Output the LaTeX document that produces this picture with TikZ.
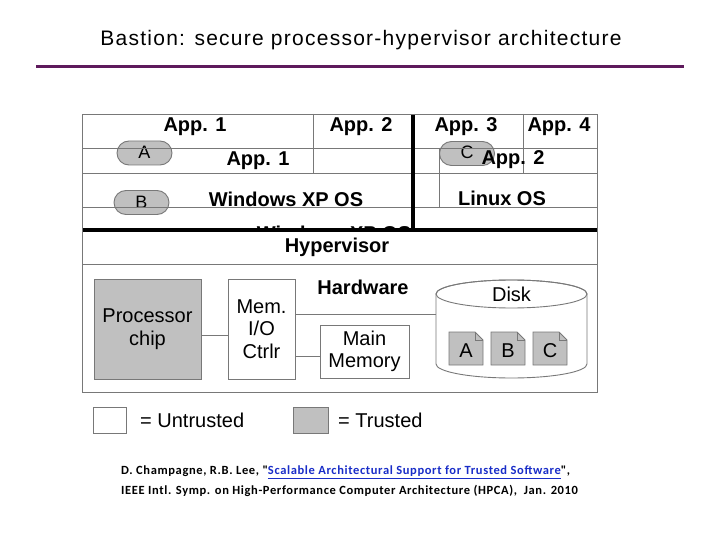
\documentclass[tikz,border=0pt]{standalone}
\usepackage{fontspec}
\setmainfont{Liberation Sans}
\newfontfamily\titlefont[LetterSpace=6]{Liberation Sans}
\newfontfamily\calib[LetterSpace=5]{Carlito}
\definecolor{gline}{RGB}{120,120,120}
\definecolor{gfill}{RGB}{192,192,192}
\definecolor{purp}{RGB}{94,26,92}
\definecolor{linkblue}{RGB}{25,45,200}
\tikzset{
  lbl/.style={font=\fontsize{20}{22}\selectfont\bfseries, inner sep=0pt},
  reg/.style={font=\fontsize{20}{23}\selectfont, align=center, inner sep=0pt},
  untr/.style={draw=gline, fill=white, line width=0.9pt},
  trus/.style={draw=gline, fill=gfill, line width=0.9pt},
  oval/.style={draw=gline, fill=gfill, line width=0.9pt, rounded corners=12pt, minimum width=55pt, minimum height=24pt, inner sep=0pt, font=\fontsize{18}{20}\selectfont},
  grid/.style={draw=gline, line width=0.9pt},
  thick/.style={draw=black, line width=4pt},
  wire/.style={draw=gline, line width=0.9pt},
  cite/.style={anchor=west, inner sep=0pt, font=\calib\bfseries\fontsize{12.5}{15}\selectfont},
}
\begin{document}
\begin{tikzpicture}[x=1pt,y=-1pt]
\useasboundingbox (0,0) rectangle (720,540);
\fill[white] (0,0) rectangle (720,540);
% title
\node[font=\titlefont\fontsize{21}{24}\selectfont] (title) at (361,40) {Bastion: secure processor-hypervisor architecture};
\draw[purp, line width=3pt] (36,67) -- (684,67);
% ovals
\node[oval] (ovA) at (144.5,153) {\raisebox{2pt}{A}};
\node[oval] (ovB) at (141.5,202.5) {B};
\node[oval] (ovC) at (467,153.5) {\raisebox{2pt}{C}};
% grid
\draw[grid] (82,148) -- (597,148);
\draw[grid] (82,173) -- (597,173);
\draw[grid] (82,207) -- (597,207);
\draw[grid] (313,114) -- (313,173);
\draw[grid] (439,148) -- (439,207);
\draw[grid] (523,114) -- (523,173);
% texts
\node[lbl] (a1) at (195,127) {App. 1};
\node[lbl] (a2) at (361,127) {App. 2};
\node[lbl] (a3) at (466,127) {App. 3};
\node[lbl] (a4) at (559,127) {App. 4};
\node[lbl] (a1b) at (258,161) {App. 1};
\node[lbl] (a2b) at (513,160) {App. 2};
\node[lbl] (win) at (286,199) {Windows XP OS};
\node[lbl] (lin) at (502,198) {Linux OS};
\node[lbl] (winh) at (334,233) {Windows XP OS};
% hypervisor
\fill[white] (82,230) rectangle (597,264);
\draw[grid] (82,264) -- (597,264);
\node[lbl] (hyp) at (337,247) {Hypervisor};
\draw[thick] (412.5,114) -- (412.5,230);
\draw[thick] (82,230) -- (597,230);
% hardware
\node[lbl] (hw) at (363,287) {Hardware};
\node[trus, reg, minimum width=107pt, minimum height=100pt] (proc) at (147.5,329) {Processor\\chip};
\node[untr, reg, minimum width=67pt, minimum height=100pt, font=\fontsize{20}{22.5}\selectfont] (memc) at (261.5,329) {Mem.\\I/O\\Ctrlr};
\node[untr, reg, minimum width=89pt, minimum height=53pt, font=\fontsize{20}{22}\selectfont] (mmem) at (364.5,351.5) {Main\\Memory};
% disk
\filldraw[fill=white, draw=gline, line width=0.9pt] (436,294) -- (436,364) arc[start angle=180,end angle=360,x radius=75.5pt,y radius=14pt] -- (587,294) arc[start angle=0,end angle=180,x radius=75.5pt,y radius=14pt] -- cycle;
\draw[gline, line width=0.9pt] (511.5,294) ellipse[x radius=75.5pt, y radius=14pt];
\node[reg] (disk) at (511.5,294) {Disk};
\coordinate (diskL) at (436,314);
% files
\foreach \x/\l in {449/A,491/B,533/C}{
  \filldraw[fill=gfill, draw=gline, line width=0.9pt] (\x,332) -- (\x+26,332) -- (\x+34,340) -- (\x+34,365) -- (\x,365) -- cycle;
  \draw[gline, line width=0.9pt] (\x+26,332) -- (\x+26,340) -- (\x+34,340);
  \node[reg] (file\l) at (\x+17,351) {\l};
}
% wires
\draw[wire] (proc.east |- 0,335) -- (memc.west |- 0,335);
\draw[wire] (memc.east |- 0,314) -- (diskL);
\draw[wire] (memc.east |- 0,356) -- (mmem.west |- 0,356);
% outer box
\draw[grid] (82,114) rectangle (597,392);
% legend
\node[untr, minimum width=33pt, minimum height=26pt, inner sep=0pt] (lu) at (109.5,420) {};
\node[reg, anchor=west] (lut) at (140,420) {= Untrusted};
\node[trus, minimum width=35pt, minimum height=26pt, inner sep=0pt] (lt) at (310.5,420) {};
\node[reg, anchor=west] (ltt) at (338,420) {= Trusted};
% citation
\node[cite] (c1) at (121,472) {D. Champagne, R.B. Lee, "\textcolor{linkblue}{\underline{Scalable Architectural Support for Trusted Software}}",};
\node[cite] (c2) at (121,491) {IEEE Intl. Symp. on High-Performance Computer Architecture (HPCA),\ \ Jan. 2010};
\end{tikzpicture}
\end{document}
